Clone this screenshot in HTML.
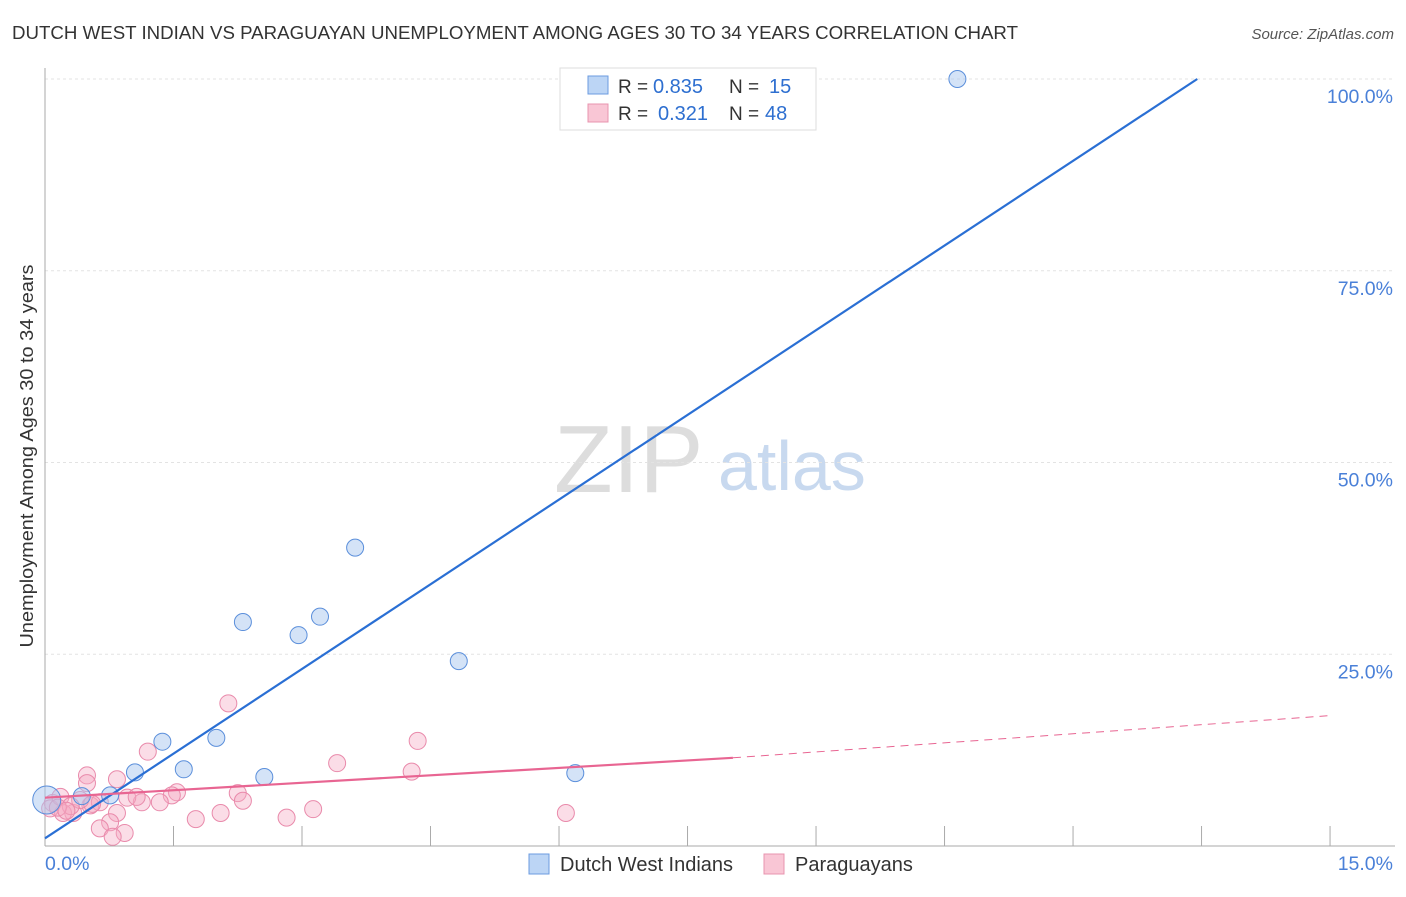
<!DOCTYPE html>
<html><head><meta charset="utf-8"><style>
body{margin:0;background:#fff;font-family:"Liberation Sans",sans-serif;}
svg text{font-family:"Liberation Sans",sans-serif;}
</style></head><body>
<svg width="1406" height="892" id="c">
<text x="12" y="39" font-size="18" fill="#333" textLength="1006" lengthAdjust="spacingAndGlyphs">DUTCH WEST INDIAN VS PARAGUAYAN UNEMPLOYMENT AMONG AGES 30 TO 34 YEARS CORRELATION CHART</text>
<text x="1394" y="39" font-size="15" fill="#555" font-style="italic" text-anchor="end">Source: ZipAtlas.com</text>
<text x="554" y="492" font-size="96" fill="#ddd" font-family="Liberation Serif">ZIP</text>
<text x="718" y="490" font-size="70" fill="#c8d9ef">atlas</text>
<text transform="translate(33,456) rotate(-90)" font-size="18" fill="#333" text-anchor="middle" textLength="383" lengthAdjust="spacingAndGlyphs">Unemployment Among Ages 30 to 34 years</text>
<g id="grid"></g><g id="marks"></g>
<g>
<rect x="560" y="68" width="256" height="62" fill="#fff" stroke="#ddd"/>
<rect x="588" y="76" width="20" height="18" fill="#bcd5f5" stroke="#6b9be0"/>
<rect x="588" y="104" width="20" height="18" fill="#f9c6d5" stroke="#e894af"/>
<text x="618" y="93" font-size="19" fill="#333">R =</text>
<text x="653" y="93" font-size="20" fill="#2e6fd0">0.835</text>
<text x="729" y="93" font-size="19" fill="#333">N =</text>
<text x="769" y="93" font-size="20" fill="#2e6fd0">15</text>
<text x="618" y="120" font-size="19" fill="#333">R =</text>
<text x="658" y="120" font-size="20" fill="#2e6fd0">0.321</text>
<text x="729" y="120" font-size="19" fill="#333">N =</text>
<text x="765" y="120" font-size="20" fill="#2e6fd0">48</text>
</g>
<g>
<rect x="529" y="854" width="20" height="20" fill="#bcd5f5" stroke="#6b9be0"/>
<text x="560" y="871" font-size="20" fill="#333">Dutch West Indians</text>
<rect x="764" y="854" width="20" height="20" fill="#f9c6d5" stroke="#e894af"/>
<text x="795" y="871" font-size="20" fill="#333">Paraguayans</text>
</g>
</svg>
<script>
const xTicks=[0,1.5,3,4.5,6,7.5,9,10.5,12,13.5,15];
const yTicks=[25,50,75,100];
const yTickLabels=["25.0%","50.0%","75.0%","100.0%"];
const blueX=[10.65,3.62,2.31,2.96,3.21,4.83,6.19,1.37,2.0,1.62,2.56,1.05,0.76,0.43,0.02];
const blueY=[100,38.9,29.2,27.5,29.9,24.1,9.5,13.6,14.1,10.0,9.0,9.6,6.6,6.5,6.0];
const pinkX=[2.14,1.20,3.41,4.35,4.28,0.49,0.84,0.49,2.25,2.31,1.54,1.48,1.34,1.13,0.96,3.13,2.82,2.05,1.76,0.84,0.76,0.64,0.93,0.79,0.33,0.21,0.09,0.06,0.53,0.64,0.41,0.18,1.07,6.08,0.3,0.15,0.25,0.55];
const pinkY=[18.6,12.3,10.8,13.7,9.7,9.2,8.7,8.2,6.9,5.9,7.0,6.6,5.7,5.7,6.3,4.8,3.7,4.3,3.5,4.3,3.1,2.3,1.7,1.2,4.3,4.3,5.6,4.9,5.3,5.7,6.0,6.4,6.4,4.3,5.2,5.0,4.6,5.5];
const blueFit=[1.0,100,13.45];
const pinkFit=[6.3,11.5,8.03,17.0];
const X=v=>45+v*85.67, Y=v=>846-v*7.67;
const NS="http://www.w3.org/2000/svg";
const g=document.getElementById('grid'), m=document.getElementById('marks');
function mk(p,tag,a){const e=document.createElementNS(NS,tag);for(const k in a)e.setAttribute(k,a[k]);p.appendChild(e);return e;}
yTicks.forEach((t,i)=>{const l=mk(g,'line',{x1:45,x2:1395,y1:Y(t),y2:Y(t),stroke:'#e3e3e3','stroke-dasharray':'3,3'});

const tx=mk(g,'text',{x:1393,y:Y(t)+24,'font-size':19.5,fill:'#4a80d8','text-anchor':'end'});tx.textContent=yTickLabels[i];
});
const ax=mk(g,'line',{x1:45,x2:45,y1:68,y2:846,stroke:'#aaa'});
const bx=mk(g,'line',{x1:45,x2:1395,y1:846,y2:846,stroke:'#aaa'});
xTicks.forEach(t=>{const l=mk(g,'line',{x1:X(t),x2:X(t),y1:826,y2:846,stroke:'#aaa'});});
const t0=mk(g,'text',{x:45,y:870,'font-size':19.5,fill:'#4a80d8'});t0.textContent="0.0%";
const t1=mk(g,'text',{x:1393,y:870,'font-size':19.5,fill:'#4a80d8','text-anchor':'end'});t1.textContent="15.0%";
pinkX.forEach((x,i)=>{const c=mk(m,'circle',{cx:X(x),cy:Y(pinkY[i]),r:8.5,fill:'rgba(246,170,195,0.4)',stroke:'#e98aab','stroke-width':1});
});
blueX.forEach((x,i)=>{const c=mk(m,'circle',{cx:X(x),cy:Y(blueY[i]),r:i==14?14:8.5,fill:'rgba(170,200,240,0.5)',stroke:'#5b8fdb','stroke-width':1});
});
const bl=mk(m,'line',{x1:X(0),y1:Y(blueFit[0]),x2:X(blueFit[2]),y2:Y(blueFit[1]),stroke:'#2a6fd4','stroke-width':2.2});

const pl=mk(m,'line',{x1:X(0),y1:Y(pinkFit[0]),x2:X(pinkFit[2]),y2:Y(pinkFit[1]),stroke:'#e86592','stroke-width':2.2});

const pd=mk(m,'line',{x1:X(pinkFit[2]),y1:Y(pinkFit[1]),x2:X(15),y2:Y(pinkFit[3]),stroke:'#e86592','stroke-width':1,'stroke-dasharray':'8,6'});

</script>
</body></html>
